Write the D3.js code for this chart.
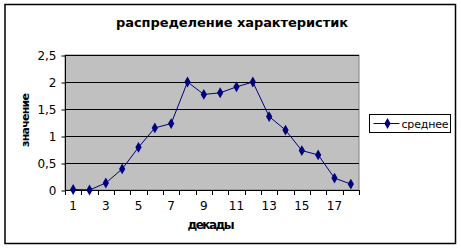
<!DOCTYPE html>
<html lang="ru">
<head>
  <meta charset="UTF-8">
  <title>распределение характеристик</title>
  <script src="https://cdn.jsdelivr.net/npm/d3@7"></script>
  <style>
    html, body { margin: 0; padding: 0; background: #fff; }
    svg { display: block; font-family: Verdana, "DejaVu Sans", sans-serif; }
  </style>
</head>
<body>
<svg width="461" height="248"></svg>
<script>
  // decades 1..18
  var decades = [1, 2, 3, 4, 5, 6, 7, 8, 9, 10, 11, 12, 13, 14, 15, 16, 17, 18];
  // series "среднее"
  var meanValues = [0.01, 0, 0.13, 0.39, 0.79, 1.15, 1.23, 2.0, 1.77, 1.8, 1.91, 2.0, 1.36, 1.11, 0.73, 0.65, 0.22, 0.11];
  var yTicks = [0, 0.5, 1, 1.5, 2, 2.5];
  var xLabelled = [1, 3, 5, 7, 9, 11, 13, 15, 17];

  var svg = d3.select("svg"),
      plot = { left: 65, top: 55, right: 359, bottom: 190 };

  // outer frame
  svg.append("rect")
    .attr("x", 5).attr("y", 4.5)
    .attr("width", 450.5).attr("height", 239)
    .attr("fill", "#fff")
    .attr("stroke", "#000")
    .attr("stroke-width", 1.5);

  var x = d3.scaleBand()
    .domain(decades)
    .range([plot.left, plot.right]);

  var y = d3.scaleLinear()
    .domain([0, 2.5])
    .range([plot.bottom, plot.top]);

  // plot area
  svg.append("rect")
    .attr("x", plot.left).attr("y", plot.top)
    .attr("width", plot.right - plot.left)
    .attr("height", plot.bottom - plot.top)
    .attr("fill", "#c0c0c0")
    .attr("stroke", "#808080")
    .attr("stroke-width", 1);

  // gridlines
  svg.append("g")
    .selectAll("line")
    .data(yTicks.slice(1))
    .enter().append("line")
    .attr("x1", plot.left).attr("x2", plot.right)
    .attr("y1", function (d) { return Math.round(y(d)) + 0.5; })
    .attr("y2", function (d) { return Math.round(y(d)) + 0.5; })
    .attr("stroke", "#000")
    .attr("stroke-width", 1);

  // y axis
  var yAxis = svg.append("g")
    .attr("transform", "translate(" + (plot.left + 0.5) + ",0.5)")
    .call(d3.axisLeft(y).tickValues(yTicks).tickSize(4).tickPadding(5)
      .tickFormat(function (d) { return String(d).replace(".", ","); }));
  yAxis.select(".domain").attr("stroke", "#000").attr("d", "M0," + plot.bottom + "V" + plot.top);
  yAxis.selectAll("text").attr("font-size", 12).attr("font-family", "Verdana, 'DejaVu Sans', sans-serif").attr("fill", "#000");

  // x axis: ticks at category boundaries
  var xg = svg.append("g");
  xg.append("line")
    .attr("x1", plot.left).attr("x2", plot.right)
    .attr("y1", plot.bottom + 0.5).attr("y2", plot.bottom + 0.5)
    .attr("stroke", "#000");
  xg.selectAll("line.tick")
    .data(decades.concat([decades.length + 1]))
    .enter().append("line")
    .attr("class", "tick")
    .attr("x1", function (d, i) { return Math.round(plot.left + i * x.step()) + 0.5; })
    .attr("x2", function (d, i) { return Math.round(plot.left + i * x.step()) + 0.5; })
    .attr("y1", plot.bottom).attr("y2", plot.bottom + 5)
    .attr("stroke", "#000");
  xg.selectAll("text")
    .data(xLabelled)
    .enter().append("text")
    .attr("x", function (d) { return x(d) + x.bandwidth() / 2; })
    .attr("y", plot.bottom + 20)
    .attr("text-anchor", "middle")
    .attr("font-size", 12)
    .text(function (d) { return d; });

  // line series
  var line = d3.line()
    .x(function (d, i) { return x(decades[i]) + x.bandwidth() / 2; })
    .y(function (d) { return y(d); });

  svg.append("path")
    .datum(meanValues)
    .attr("d", line)
    .attr("fill", "none")
    .attr("stroke", "#000080")
    .attr("stroke-width", 1);

  var diamond = d3.symbol().type(d3.symbolDiamond).size(34);
  svg.append("g")
    .selectAll("path")
    .data(meanValues)
    .enter().append("path")
    .attr("transform", function (d, i) {
      return "translate(" + (x(decades[i]) + x.bandwidth() / 2) + "," + y(d) + ")";
    })
    .attr("d", diamond)
    .attr("fill", "#000080");

  // title and axis labels
  svg.append("text")
    .attr("x", 232).attr("y", 27)
    .attr("text-anchor", "middle")
    .attr("font-size", 13)
    .attr("font-weight", "bold")
    .attr("textLength", 232)
    .text("распределение характеристик");

  svg.append("text")
    .attr("x", 211).attr("y", 229)
    .attr("text-anchor", "middle")
    .attr("font-size", 12)
    .attr("font-weight", "bold")
    .attr("textLength", 47)
    .text("декады");

  svg.append("text")
    .attr("transform", "translate(29,120) rotate(-90)")
    .attr("text-anchor", "middle")
    .attr("font-size", 11)
    .attr("font-weight", "bold")
    .attr("textLength", 54)
    .text("значение");

  // legend
  var legend = svg.append("g").attr("transform", "translate(369.5,114.5)");
  legend.append("rect")
    .attr("width", 81).attr("height", 18)
    .attr("fill", "#fff")
    .attr("stroke", "#000");
  legend.append("line")
    .attr("x1", 4).attr("x2", 30).attr("y1", 9).attr("y2", 9)
    .attr("stroke", "#000080");
  legend.append("path")
    .attr("transform", "translate(18,9)")
    .attr("d", diamond)
    .attr("fill", "#000080");
  legend.append("text")
    .attr("x", 32).attr("y", 13)
    .attr("font-size", 11)
    .attr("textLength", 47)
    .text("среднее");
</script>
</body>
</html>
